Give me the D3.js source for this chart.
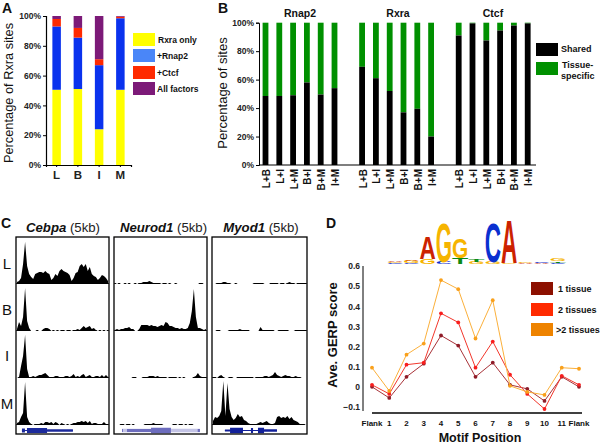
<!DOCTYPE html>
<html>
<head>
<meta charset="utf-8">
<script src="https://cdn.jsdelivr.net/npm/d3@7"></script>
<style>
html, body { margin: 0; padding: 0; background: #fff; }
svg { display: block; }
text { font-family: "Liberation Sans", sans-serif; fill: #111; }
.tick text { font-weight: bold; fill: #222; }
</style>
</head>
<body>
<script>
// panel A
var tissues = ["L", "B", "I", "M"];
var rxraOnly = [50.5, 51, 24, 50.5];
var plusRnap2 = [42.5, 34.5, 43, 48];
var plusCtcf = [5, 6.5, 4, 1];
var allFactors = [2, 8, 29, 0.5];
var stackNames = ["Rxra only", "+Rnap2", "+Ctcf", "All factors"];
var stackColors = ["#ffff00", "#0a32ee", "#ff2a00", "#7c1a78"];
var stackLegendColors = ["#ffff00", "#4a86f8", "#ff2a00", "#7c1a78"];

// panel B
var pairs = ["L+B", "L+I", "L+M", "B+I", "B+M", "I+M"];
var factorNames = ["Rnap2", "Rxra", "Ctcf"];
var sharedRnap2 = [48.5, 48.5, 49, 58, 49.5, 54];
var sharedRxra = [69, 61, 52, 37, 39.5, 20];
var sharedCtcf = [91, 99.5, 87.5, 94.5, 98, 99.5];

// panel C, coverage height per 2px bin
var geneNames = ["Cebpa", "Neurod1", "Myod1"];
var rowNames = ["L", "B", "I", "M"];
var cebpaL = [2,3,6,20,42,18,10,7,5,10,11,12,12,11,13,11,10,4,6,10,8,13,15,13,12,11,9,3,6,11,12,18,20,17,20,13,17,10,8,7,4,6,9,8,6,3];
var cebpaB = [2,9,5,14,43,10,3,0,0,0,1,0,0,2,3,3,2,0,1,0,1,0,1,1,0,1,1,0,1,1,2,1,3,5,3,4,5,2,3,1,0,1,0,1,0,1];
var cebpaI = [0,1,12,22,43,9,1,1,2,1,2,3,3,4,5,3,1,1,1,2,2,1,1,1,2,2,1,2,4,1,2,1,3,4,1,2,3,1,1,2,2,1,3,1,3,1];
var cebpaM = [2,3,8,12,43,8,3,1,0,1,1,1,2,1,3,3,2,3,1,3,2,0,2,1,0,1,0,1,2,2,3,3,4,3,4,2,4,1,2,2,1,1,1,3,1,1];
var neurodL = [1,0,1,0,0,1,0,1,0,0,1,0,1,1,2,2,2,3,2,1,1,1,1,0,1,1,0,1,0,0,1,0,0,0,0,0,0,0,0,0,0,0,1,1,0,0];
var neurodB = [1,2,1,2,2,3,3,4,2,2,0,0,2,6,6,6,6,5,6,5,5,4,5,6,5,9,8,5,5,4,3,3,2,3,2,2,3,8,20,42,14,3,3,2,1,2];
var neurodI = [0,0,0,0,0,0,0,0,0,1,1,0,0,0,1,1,1,2,2,2,1,2,1,1,1,1,0,1,1,1,1,0,1,0,1,0,0,0,0,1,2,5,2,1,1,1];
var neurodM = [0,0,0,1,1,0,1,1,0,1,0,0,0,0,0,1,1,1,1,2,1,1,1,1,0,0,0,0,0,1,1,0,1,1,0,1,0,1,1,0,0,0,0,0,0,0];
var myodL = [0,0,1,1,1,2,2,1,1,0,0,1,0,0,0,0,0,0,0,0,1,1,1,1,1,0,0,0,1,1,1,1,0,1,1,0,1,2,1,1,0,1,1,1,1,1];
var myodB = [0,0,1,1,0,0,0,0,1,1,1,1,1,2,1,1,1,1,0,0,0,0,0,4,1,1,1,1,1,1,0,0,1,1,1,1,1,0,0,0,1,1,1,1,1,1];
var myodI = [1,1,0,2,3,1,0,0,1,1,0,0,1,1,1,1,1,1,1,1,0,1,1,1,1,2,2,1,2,3,6,3,2,1,2,3,2,2,1,1,2,1,1,0,0,0];
var myodM = [4,8,7,9,14,44,9,42,16,8,5,7,11,8,9,5,4,2,1,1,1,1,2,3,2,3,4,2,1,1,2,8,9,7,8,7,9,6,8,5,4,3,1,1,1,0];
var coverage = [
  [cebpaL, cebpaB, cebpaI, cebpaM],
  [neurodL, neurodB, neurodI, neurodM],
  [myodL, myodB, myodI, myodM]
];
// gene models in kb: intron span, then exons as start, end, thickness
var geneSpans = [[0.32, 3.06], [0.43, 4.62], [0.68, 3.42]];
var cebpaExons = [[0.32, 0.48, 4], [0.59, 1.67, 5], [1.67, 3.06, 2.5]];
var neurodExons = [[0.43, 0.48, 3], [0.7, 1.99, 3], [1.99, 3.06, 5.5], [4.5, 4.62, 3]];
var myodExons = [[0.68, 0.95, 2], [0.95, 1.63, 5.5], [2.05, 2.16, 5], [2.42, 2.74, 5.5], [2.74, 3.42, 2.5]];
var geneExons = [cebpaExons, neurodExons, myodExons];
var geneColors = ["#1c2a9c", "#6d6dbe", "#12209a"];
var intronColors = ["#1c2a9c", "#c4c4e6", "#12209a"];

// panel D
var motifPositions = ["Flank", "1", "2", "3", "4", "5", "6", "7", "8", "9", "10", "11", "Flank"];
var oneTissue = [0, -0.055, 0.05, 0.115, 0.255, 0.205, 0.05, 0.12, 0.01, -0.01, -0.07, 0.05, 0];
var twoTissues = [0.01, -0.035, 0.11, 0.12, 0.365, 0.32, 0.095, 0.225, 0.06, -0.035, -0.11, 0.055, 0.01];
var moreTissues = [0.095, -0.02, 0.16, 0.215, 0.53, 0.485, 0.24, 0.43, 0.005, -0.025, -0.04, 0.095, 0.09];
var gerpNames = ["1 tissue", "2 tissues", ">2 tissues"];
var gerpLineColors = ["#a83238", "#f2372c", "#fbb03b"];
var gerpDotColors = ["#8f1c28", "#f81e1e", "#f9a01b"];
var gerpLegendColors = ["#8c1000", "#ff2a00", "#ee8300"];

// motif logo, letters per column from the bottom up, height in bits
var logoLetters = [
  ["C", "G", "A"], ["C", "G", "A"], ["G", "A"], ["C", "G"], ["T", "G"], ["G", "T"],
  ["G", "C"], ["G", "A"], ["A", "G"], ["A", "C"], ["C", "T", "G"]
];
var logoBits = [
  [0.04, 0.05, 0.05], [0.05, 0.08, 0.06], [0.2, 0.98], [0.08, 1.7], [0.26, 0.85], [0.1, 0.08],
  [0.08, 1.72], [0.06, 1.9], [0.04, 0.03], [0.04, 0.03], [0.06, 0.06, 0.12]
];
var logoColors = { A: "#cc2200", C: "#0a30d0", G: "#f6b400", T: "#0a8a14" };
var logoWidths = { A: 0.722, C: 0.722, G: 0.778, T: 0.611 };

var svg = d3.select("body").append("svg")
  .attr("width", 600)
  .attr("height", 445);

function panelLetter(s, x, y) {
  svg.append("text").attr("x", x).attr("y", y)
    .attr("font-size", 14).attr("font-weight", "bold").text(s);
}
panelLetter("A", 2, 13);
panelLetter("B", 218, 13);
panelLetter("C", 1, 228);
panelLetter("D", 326, 228);

function sideLabel(s, x, y, size, weight) {
  svg.append("text")
    .attr("transform", "translate(" + x + "," + y + ") rotate(-90)")
    .attr("text-anchor", "middle")
    .attr("font-size", size)
    .attr("font-weight", weight)
    .text(s);
}

function swatch(x, y, w, h, color) {
  svg.append("rect")
    .attr("x", x).attr("y", y).attr("width", w).attr("height", h)
    .attr("fill", color);
}

// A
var yA = d3.scaleLinear().domain([0, 100]).range([165, 16]);
var xA = d3.scaleBand().domain(tissues).range([46, 131]).paddingInner(0.6).paddingOuter(0.3);

var stackRows = tissues.map(function(t, i) {
  return { tissue: t, 0: rxraOnly[i], 1: plusRnap2[i], 2: plusCtcf[i], 3: allFactors[i] };
});
var stackA = d3.stack().keys([0, 1, 2, 3])(stackRows);

svg.append("g").selectAll("g")
  .data(stackA)
  .enter().append("g")
  .attr("fill", function(d, i) { return stackColors[i]; })
  .selectAll("rect")
  .data(function(d) { return d; })
  .enter().append("rect")
  .attr("x", function(d) { return xA(d.data.tissue); })
  .attr("y", function(d) { return yA(d[1]); })
  .attr("width", xA.bandwidth())
  .attr("height", function(d) { return yA(d[0]) - yA(d[1]); });

var axisAy = svg.append("g")
  .attr("transform", "translate(46,0)")
  .call(d3.axisLeft(yA).tickValues([0, 20, 40, 60, 80, 100]).tickSize(3).tickPadding(2).tickFormat(function(d) { return d + "%"; }));
axisAy.selectAll("text").attr("font-size", 8.5);

var axisAx = svg.append("g")
  .attr("transform", "translate(0,165)")
  .call(d3.axisBottom(xA).tickSize(2));
axisAx.selectAll("text").attr("font-size", 11.5).attr("dy", "0.75em");
svg.selectAll("path.domain").attr("stroke-width", 1.2);

sideLabel("Percentage of Rxra sites", 13, 93, 12.8, "normal");

stackNames.forEach(function(name, i) {
  var top = [33, 49, 66, 82][i];
  swatch(133, top, 22, 13, stackLegendColors[i]);
  svg.append("text").attr("x", [158, 157, 157, 157][i]).attr("y", top + 10)
    .attr("font-size", 8.5).attr("font-weight", "bold").text(name);
});

// B
var yB = d3.scaleLinear().domain([0, 100]).range([165, 22.7]);
var slotB = d3.scaleLinear().domain([0, 1]).range([265.5, 279.3]);
var sharedByFactor = [sharedRnap2, sharedRxra, sharedCtcf];
var barW = 5.8;

var rowsB = [];
sharedByFactor.forEach(function(values, f) {
  values.forEach(function(v, i) {
    rowsB.push({ factor: f, pair: pairs[i], shared: v, slot: f * 7 + i });
  });
});

var barsB = svg.append("g").selectAll("g")
  .data(rowsB)
  .enter().append("g");
barsB.append("rect")
  .attr("x", function(d) { return slotB(d.slot) - barW / 2; })
  .attr("y", yB(100))
  .attr("width", barW)
  .attr("height", function(d) { return yB(d.shared) - yB(100); })
  .attr("fill", "#009000");
barsB.append("rect")
  .attr("x", function(d) { return slotB(d.slot) - barW / 2; })
  .attr("y", function(d) { return yB(d.shared); })
  .attr("width", barW)
  .attr("height", function(d) { return yB(0) - yB(d.shared); })
  .attr("fill", "#000");

var axisBy = svg.append("g")
  .attr("transform", "translate(259,0)")
  .call(d3.axisLeft(yB).tickValues([0, 20, 40, 60, 80, 100]).tickSize(3).tickPadding(2).tickFormat(function(d) { return d + "%"; }));
axisBy.selectAll("text").attr("font-size", 8.5);

svg.append("line")
  .attr("x1", 259).attr("x2", 536)
  .attr("y1", yB(0)).attr("y2", yB(0))
  .attr("stroke", "#000").attr("stroke-width", 1.2);

barsB.append("text")
  .attr("transform", function(d) { return "translate(" + (slotB(d.slot) + 4.5) + ",169) rotate(-90)"; })
  .attr("text-anchor", "end")
  .attr("font-size", 10)
  .attr("font-weight", "bold")
  .text(function(d) { return d.pair; });

factorNames.forEach(function(name, f) {
  svg.append("text").attr("x", [300, 398, 493][f]).attr("y", 17)
    .attr("text-anchor", "middle").attr("font-size", 10.5).attr("font-weight", "bold").text(name);
});

sideLabel("Percentage of sites", 227, 93, 13, "normal");

swatch(536, 43, 22, 13, "#000");
swatch(536, 62, 22, 13, "#009000");
svg.append("text").attr("x", 561).attr("y", 52).attr("font-size", 9).attr("font-weight", "bold").text("Shared");
svg.append("text").attr("x", 562).attr("y", 68).attr("font-size", 9).attr("font-weight", "bold").text("Tissue-");
svg.append("text").attr("x", 561).attr("y", 79).attr("font-size", 9).attr("font-weight", "bold").text("specific");

// C
var boxLeft = [16, 114, 212];
var boxWidth = [93, 93, 95];
var boxTop = 237;
var boxBottom = 434;
var titleCenter = [63, 163.5, 261];
var rowBase = [284, 331, 378, 425];
var rowLabelY = [269, 315, 361, 409];

geneNames.forEach(function(gene, g) {
  var x = d3.scaleLinear().domain([0, 45]).range([boxLeft[g] + 1, boxLeft[g] + boxWidth[g] - 1]);
  var kb = d3.scaleLinear().domain([0, 5]).range([boxLeft[g], boxLeft[g] + boxWidth[g]]);

  coverage[g].forEach(function(values, r) {
    var y = d3.scaleLinear().domain([0, 46]).range([rowBase[r], rowBase[r] - 46]);
    var area = d3.area()
      .x(function(d, i) { return x(i); })
      .y0(y(0))
      .y1(function(d) { return y(d); });
    svg.append("path").attr("d", area(values)).attr("fill", "#000");
    // sparse reads show as dots on the baseline
    svg.append("g").selectAll("rect")
      .data(values)
      .enter().append("rect")
      .attr("x", function(d, i) { return x(i) - 0.75; })
      .attr("y", y(0) - 1)
      .attr("width", 1.5)
      .attr("height", function(d) { return d > 0 ? 1 : 0; })
      .attr("fill", "#000");
  });

  svg.append("line")
    .attr("x1", kb(geneSpans[g][0])).attr("x2", kb(geneSpans[g][1]))
    .attr("y1", 430.5).attr("y2", 430.5)
    .attr("stroke", intronColors[g]).attr("stroke-width", g == 1 ? 3.5 : 1);
  svg.append("g").selectAll("rect")
    .data(geneExons[g])
    .enter().append("rect")
    .attr("x", function(d) { return kb(d[0]); })
    .attr("width", function(d) { return kb(d[1]) - kb(d[0]); })
    .attr("y", function(d) { return 430.5 - d[2] / 2; })
    .attr("height", function(d) { return d[2]; })
    .attr("fill", geneColors[g]);

  svg.append("rect")
    .attr("x", boxLeft[g]).attr("y", boxTop)
    .attr("width", boxWidth[g]).attr("height", boxBottom - boxTop)
    .attr("fill", "none").attr("stroke", "#000").attr("stroke-width", 1.3);

  var title = svg.append("text")
    .attr("x", titleCenter[g]).attr("y", 232)
    .attr("text-anchor", "middle").attr("font-size", 13.2);
  title.append("tspan").attr("font-weight", "bold").attr("font-style", "italic").text(gene);
  title.append("tspan").attr("fill", "#222").text(" (5kb)");
});

rowNames.forEach(function(name, r) {
  svg.append("text").attr("x", 7).attr("y", rowLabelY[r])
    .attr("text-anchor", "middle").attr("font-size", 15).attr("fill", "#222").text(name);
});

// D
var xD = d3.scaleLinear().domain([0, 12]).range([372, 579]);
var yD = d3.scaleLinear().domain([-0.1, 0.6]).range([407, 266]);

var gerpSeries = [oneTissue, twoTissues, moreTissues];
var lineD = d3.line()
  .x(function(d, i) { return xD(i); })
  .y(function(d) { return yD(d); });

gerpSeries.forEach(function(values, s) {
  svg.append("path")
    .attr("d", lineD(values))
    .attr("fill", "none")
    .attr("stroke", gerpLineColors[s])
    .attr("stroke-width", 1);
  svg.append("g").selectAll("circle")
    .data(values)
    .enter().append("circle")
    .attr("cx", function(d, i) { return xD(i); })
    .attr("cy", function(d) { return yD(d); })
    .attr("r", 1.9)
    .attr("fill", gerpDotColors[s]);
});

var axisDy = svg.append("g")
  .attr("transform", "translate(363,0)")
  .call(d3.axisLeft(yD)
    .tickValues([-0.1, 0, 0.1, 0.2, 0.3, 0.4, 0.5, 0.6])
    .tickSize(0)
    .tickPadding(3)
    .tickFormat(function(d) { return d == 0 ? "0" : d3.format(".1f")(d); }));
axisDy.selectAll("text").attr("font-size", 8.5);
axisDy.select("path.domain").attr("d", "M0," + yD(0.6) + "V411");

svg.append("line")
  .attr("x1", 372).attr("x2", 582).attr("y1", 413).attr("y2", 413)
  .attr("stroke", "#000").attr("stroke-width", 1.5);

svg.append("g").selectAll("text")
  .data(motifPositions)
  .enter().append("text")
  .attr("x", function(d, i) { return xD(i); })
  .attr("y", 425.5)
  .attr("text-anchor", "middle")
  .attr("font-size", 8)
  .attr("font-weight", "bold")
  .attr("fill", "#222")
  .text(function(d) { return d; });

svg.append("text").attr("x", 480).attr("y", 442)
  .attr("text-anchor", "middle").attr("font-size", 12.5).attr("font-weight", "bold").text("Motif Position");
sideLabel("Ave. GERP score", 337, 335, 13, "bold");

gerpNames.forEach(function(name, i) {
  var top = [282, 303, 323][i];
  swatch(531, top, 22, 13, gerpLegendColors[i]);
  svg.append("text").attr("x", [558, 558, 556][i]).attr("y", top + 10)
    .attr("font-size", 9).attr("font-weight", "bold").text(name);
});

// logo
var xLogo = d3.scaleLinear().domain([0, 11]).range([387, 566]);
var yLogo = d3.scaleLinear().domain([0, 2]).range([264, 217]);

logoLetters.forEach(function(letters, col) {
  var base = 0;
  letters.forEach(function(ch, k) {
    var bits = logoBits[col][k];
    var w = xLogo(col + 1) - xLogo(col);
    var h = yLogo(base) - yLogo(base + bits);
    // font size 100, capital height is about 72 units
    svg.append("text")
      .attr("transform", "translate(" + xLogo(col) + "," + yLogo(base) + ") scale(" + (w / (logoWidths[ch] * 100)) + "," + (h / 72) + ")")
      .attr("font-size", 100)
      .attr("font-weight", "bold")
      .style("fill", logoColors[ch])
      .text(ch);
    base += bits;
  });
});
</script>
</body>
</html>
